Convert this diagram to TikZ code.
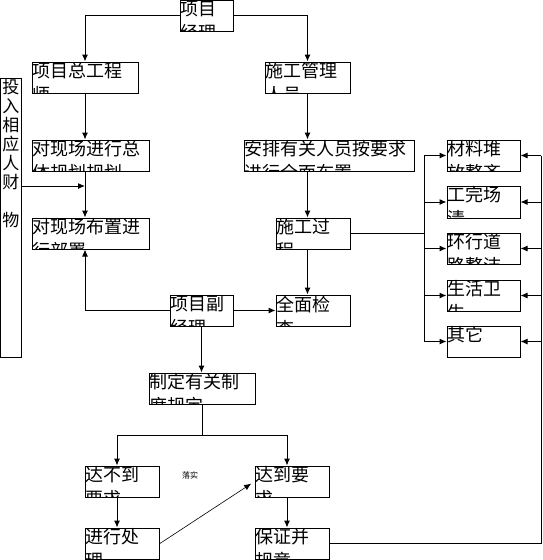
\documentclass[tikz,border=0pt]{standalone}
\usepackage{fontspec}
\newfontfamily\cjk{Noto Sans CJK SC}
\usetikzlibrary{arrows.meta,fit}
\tikzset{
  >={Latex[length=7pt,width=6pt]},
  box/.style={draw,line width=1pt,inner sep=0pt},
  txt/.style={font=\cjk\fontsize{18}{24}\selectfont,align=left,inner sep=1pt,anchor=north west},
  arr/.style={->,line width=1pt},
  ln/.style={line width=1pt},
}
% box with clipped text
\newcommand{\kuang}[6]{%
  \node[box,fit={(#2,#3) (#4,#5)}] (#1) {};
  \begin{scope}
    \clip (#1.south west) rectangle (#1.north east);
    \node[txt] (#1-t) at (#1.north west) {#6};
  \end{scope}}

\begin{document}
\begin{tikzpicture}[x=1pt,y=-1pt]
\useasboundingbox (0,0) rectangle (542,560);
\kuang{xmjl}{180}{0.5}{233}{31}{项目\\经理}
\kuang{zgcs}{32}{62}{138}{93}{项目总工程\\师}
\kuang{sggl}{265}{62}{350}{93}{施工管理\\人员}
\kuang{ztgh}{32}{140}{149}{171}{对现场进行总\\体规划规划}
\kuang{bzbs}{32}{218}{149}{249}{对现场布置进\\行部署}
\kuang{apry}{244}{140}{414}{171}{安排有关人员按要求\\进行全面布置}
\kuang{sggc}{276}{218}{350}{249}{施工过\\程}
\kuang{xmfj}{170}{295}{233}{326}{项目副\\经理}
\kuang{qmjc}{276}{295}{350}{326}{全面检\\查}
\kuang{clzq}{447}{140}{520}{171}{材料堆\\放整齐}
\kuang{gwqc}{447}{186}{520}{218}{工完场\\清}
\kuang{hxdl}{447}{233}{520}{264}{环行道\\路整洁}
\kuang{shws}{447}{280}{520}{311}{生活卫\\生}
\kuang{qt}{447}{326}{520}{357}{其它}
\kuang{zdzd}{149}{373}{255}{404}{制定有关制\\度规定}
\kuang{dbd}{85}{466}{159}{497}{达不到\\要求}
\kuang{ddd}{255}{466}{329}{497}{达到要\\求}
\kuang{jxcl}{85}{528}{159}{559.5}{进行处\\理}
\kuang{bzgz}{255}{528}{329}{559.5}{保证并\\规章}
\node[box,fit={(0.5,78) (21,357)}] (trxy) {};
\node[txt,font=\cjk\fontsize{17}{19}\selectfont,anchor=north,align=center] (trxy-t) at ([yshift=-1pt]trxy.north) {投\\入\\相\\应\\人\\财\\\mbox{}\\物};
\node[font=\cjk\fontsize{8}{8}\selectfont,inner sep=0pt] (lsh) at (190,475) {落实};

\coordinate (lbus) at (424,0);
\coordinate (rbus) at (541,0);
\coordinate (zl) at (117,435);
\coordinate (zr) at (287,435);
\coordinate (tj) at (85,186);

\draw[arr] (xmjl.west) -| (zgcs.south |- zgcs.north);
\draw[arr] (xmjl.east) -| (sggl.north);
\draw[arr] (zgcs.south) -- (zgcs.south |- ztgh.north);
\draw[arr] (zgcs.south |- ztgh.south) -- (zgcs.south |- bzbs.north);
\draw[arr] (trxy.east |- tj) -- (tj);
\draw[arr] (sggl.south) -- (sggl.south |- apry.north);
\draw[arr] (sggl.south |- apry.south) -- (sggl.south |- sggc.north);
\draw[arr] (sggl.south |- sggc.south) -- (sggl.south |- qmjc.north);
\draw[arr] (xmfj.west) -| (zgcs.south |- bzbs.south);
\draw[arr] (xmfj.east) -- (qmjc.west);
\draw[arr] (xmfj.south) -- (xmfj.south |- zdzd.north);
\draw[ln] (zdzd.south) -- (zdzd.south |- zl);
\draw[ln] (zl) -- (zr);
\draw[arr] (zl) -- (zl |- dbd.north);
\draw[arr] (zr) -- (zr |- ddd.north);
\draw[arr] (zl |- dbd.south) -- (zl |- jxcl.north);
\draw[arr] (zr |- ddd.south) -- (zr |- bzgz.north);
\draw[->,line width=0.6pt,shorten >=4pt] (jxcl.east) -- (ddd.west);
% left bus to the five boxes
\draw[ln] (sggc.east) -- (sggc.east -| lbus);
\draw[ln] (lbus |- clzq.west) -- (lbus |- qt.west);
\foreach \n in {clzq,gwqc,hxdl,shws,qt}
  \draw[arr] (lbus |- \n.west) -- (\n.west);
% right bus back from bzgz
\draw[ln] (bzgz.east) -- (bzgz.east -| rbus) -- (rbus |- clzq.east);
\foreach \n in {clzq,gwqc,hxdl,shws,qt}
  \draw[arr] (rbus |- \n.east) -- (\n.east);
\end{tikzpicture}
\end{document}
